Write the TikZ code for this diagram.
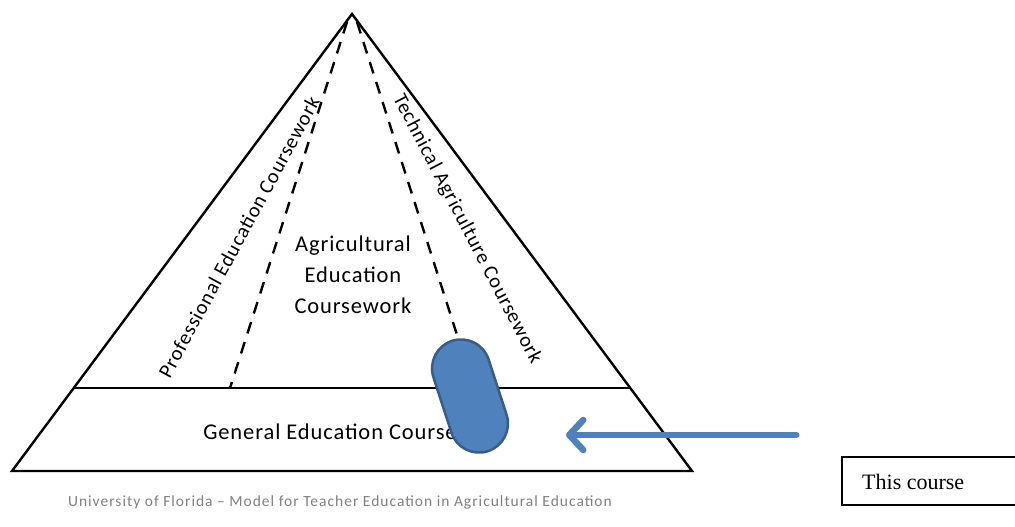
\documentclass[tikz,border=0pt]{standalone}
\usepackage{fontspec}
\setmainfont{Carlito}
\newfontfamily\labfont[LetterSpace=4]{Carlito}
\newfontfamily\capfont[LetterSpace=6.5]{Carlito}
\newfontfamily\timesf{Liberation Serif}
\usetikzlibrary{arrows.meta,shadows}
\definecolor{capfill}{HTML}{4F81BD}
\definecolor{capline}{HTML}{385D8A}
\tikzset{
  tri/.style={line width=2.4pt,line join=miter},
  dashline/.style={line width=2.4pt,dash pattern=on 12pt off 9pt},
  lbl/.style={font=\labfont\fontsize{22.5}{31}\selectfont,align=center,inner sep=0pt},
  rlbl/.style={font=\labfont\fontsize{20.5}{24}\selectfont,inner sep=0pt},
}
\begin{document}
\begin{tikzpicture}[x=1pt,y=-1pt]
\useasboundingbox (0,0) rectangle (1015,527);
\coordinate (apex) at (352,14);
\coordinate (bl) at (12,471);
\coordinate (br) at (692,471);
\coordinate (ml) at (74,388);
\coordinate (mr) at (630,388);
\coordinate (dlt) at (347,22);
\coordinate (dlb) at (230,388);
\coordinate (drt) at (357,22);
\coordinate (drb) at (458,338);
\draw[tri] (apex) -- (bl) -- (br) -- cycle;
\draw[line width=1.4pt] (ml) -- (mr);
\draw[dashline] (dlt) -- (dlb);
\draw[dashline] (drt) -- (drb);
\node[rlbl,rotate=61.5] (prof) at (239,237) {Professional Education Coursework};
\node[rlbl,rotate=-62.5] (tech) at (467,229) {Technical Agriculture Coursework};
\node[lbl] (agri) at (353,275) {Agricultural\\Education\\Coursework};
\node[lbl] (gen) at (330,432) {General Education Course};
\node[draw=capline,line width=2.5pt,fill=capfill,rounded corners=29pt,minimum width=58pt,minimum height=116pt,rotate=18,inner sep=0pt] (cap) at (470,396) {};
\node[inner sep=0pt,minimum size=1pt] (arrs) at (797,435) {};
\coordinate (arre) at (566,435);
\draw[capfill,line width=6.5pt,line cap=round,-{Straight Barb[length=14pt,width=30pt,line width=6.5pt,round]},drop shadow={opacity=0.25,shadow xshift=1pt,shadow yshift=-2pt}] (arrs) -- (arre);
\node[font=\capfont\fontsize{15.5}{18}\selectfont,text=black!50] (cap2) at (340,502) {University of Florida – Model for Teacher Education in Agricultural Education};
\draw[line width=1.2pt] (1020,457) -- (842,457) -- (842,505) -- (1020,505);
\node[font=\timesf\fontsize{22}{26}\selectfont,anchor=west,inner sep=0pt] (this) at (862,482) {This course};
\end{tikzpicture}
\end{document}
